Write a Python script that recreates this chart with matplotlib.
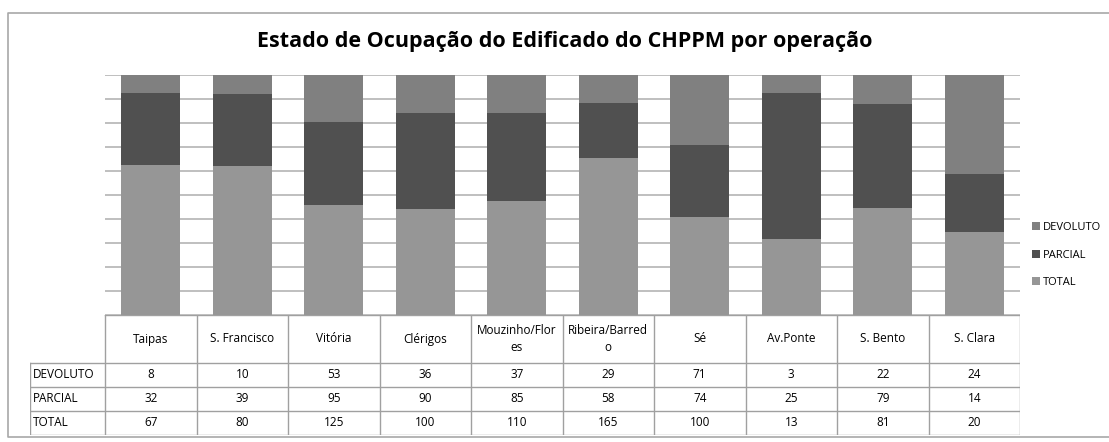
import numpy as np
import matplotlib.pyplot as plt

# data
categories = ["Taipas", "S. Francisco", "Vitória", "Clérigos", "Mouzinho/Flores",
              "Ribeira/Barredo", "Sé", "Av. Ponte", "S. Bento", "S. Clara"]
header_labels = ["Taipas", "S. Francisco", "Vitória", "Clérigos", "Mouzinho/Flor\nes",
                 "Ribeira/Barred\no", "Sé", "Av.Ponte", "S. Bento", "S. Clara"]
devoluto = [8, 10, 53, 36, 37, 29, 71, 3, 22, 24]
parcial = [32, 39, 95, 90, 85, 58, 74, 25, 79, 14]
total = [67, 80, 125, 100, 110, 165, 100, 13, 81, 20]

series_names = ["DEVOLUTO", "PARCIAL", "TOTAL"]
colors = {"DEVOLUTO": "#808080", "PARCIAL": "#505050", "TOTAL": "#969696"}

W, H = 1109, 442
fig = plt.figure(figsize=(W / 100, H / 100), dpi=100)
plt.rcParams['font.family'] = ['Open Sans', 'DejaVu Sans']

def px_axes(x0, y0, x1, y1):
    # pixel box (top-left origin) -> figure axes
    return fig.add_axes([x0 / W, 1 - y1 / H, (x1 - x0) / W, (y1 - y0) / H])

# outer chart border (left, top and bottom edges visible, right edge cut off)
bx0, by0, by1 = 7.5 / W, 1 - 12.5 / H, 1 - 437 / H
fig.add_artist(plt.Line2D([1, bx0, bx0, 1], [by0, by0, by1, by1], color="#a8a8a8", lw=1.2,
                          transform=fig.transFigure))

fig.text(565 / W, 1 - 42 / H, "Estado de Ocupação do Edificado do CHPPM por operação",
         ha="center", va="center", fontsize=15.5, fontweight="bold")

# bars, 100% stacked
ax = px_axes(105, 75, 1020, 315)
d = np.array(devoluto, float)
p = np.array(parcial, float)
t = np.array(total, float)
s = d + p + t
x = np.arange(len(categories))
bw = 0.65
ax.bar(x, t / s, bw, color=colors["TOTAL"], label="TOTAL", zorder=2)
ax.bar(x, p / s, bw, bottom=t / s, color=colors["PARCIAL"], label="PARCIAL", zorder=2)
ax.bar(x, d / s, bw, bottom=(t + p) / s, color=colors["DEVOLUTO"], label="DEVOLUTO", zorder=2)
ax.set_xlim(-0.5, len(categories) - 0.5)
ax.set_ylim(0, 1)
for g in np.linspace(0, 1, 11):
    ax.axhline(g, color="#b4b4b4", lw=1.2, zorder=1)
ax.set_xticks([])
ax.set_yticks([])
for sp in ax.spines.values():
    sp.set_visible(False)

# legend
handles, labels = ax.get_legend_handles_labels()
order = [2, 1, 0]
fig.legend([handles[i] for i in order], [labels[i] for i in order],
           loc="center left", bbox_to_anchor=(1022 / W, 1 - 255 / H),
           frameon=False, fontsize=8, handlelength=0.7, handleheight=0.7,
           handletextpad=0.25, labelspacing=1.5)

# data table
lab_w = 75 / 91.5
tx = px_axes(30, 315, 1020, 435)
tx.set_xlim(-0.5 - lab_w, len(categories) - 0.5)
tx.set_ylim(120, 0)
tx.axis("off")
gc = "#a0a0a0"
row_tops = [48, 72, 96, 120]
# horizontal lines
tx.plot([-0.5, len(categories) - 0.5], [0, 0], color=gc, lw=1)
for yy in row_tops:
    tx.plot([-0.5 - lab_w, len(categories) - 0.5], [yy, yy], color=gc, lw=1)
# vertical lines
tx.plot([-0.5 - lab_w, -0.5 - lab_w], [48, 120], color=gc, lw=1)
for i in range(len(categories) + 1):
    tx.plot([i - 0.5, i - 0.5], [0, 120], color=gc, lw=1)
fs = 8.5
for i, lab in enumerate(header_labels):
    tx.text(i, 24, lab, ha="center", va="center", fontsize=fs, linespacing=1.45)
rows = [devoluto, parcial, total]
for r, (name, vals) in enumerate(zip(series_names, rows)):
    yc = 48 + 24 * r + 12
    tx.text(-0.5 - lab_w + 0.03, yc, name, ha="left", va="center", fontsize=fs)
    for i, v in enumerate(vals):
        tx.text(i, yc, str(v), ha="center", va="center", fontsize=fs)

fig.savefig("out.png", dpi=100)
